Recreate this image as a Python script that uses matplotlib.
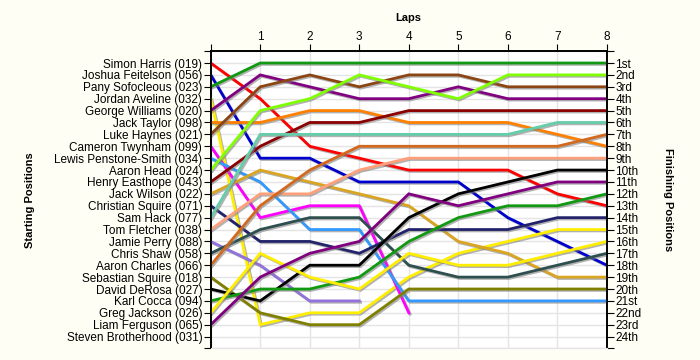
import numpy as np
import matplotlib
matplotlib.use("Agg")
import matplotlib.pyplot as plt
import matplotlib.patheffects as pe

plt.rcParams['font.family'] = ['Liberation Sans', 'DejaVu Sans']

# Laps 0..8
laps = np.arange(0, 9)

drivers = ['Simon Harris (019)', 'Joshua Feitelson (056)', 'Pany Sofocleous (023)',
           'Jordan Aveline (032)', 'George Williams (020)', 'Jack Taylor (098)',
           'Luke Haynes (021)', 'Cameron Twynham (099)', 'Lewis Penstone-Smith (034)',
           'Aaron Head (024)', 'Henry Easthope (043)', 'Jack Wilson (022)',
           'Christian Squire (071)', 'Sam Hack (077)', 'Tom Fletcher (038)',
           'Jamie Perry (088)', 'Chris Shaw (058)', 'Aaron Charles (066)',
           'Sebastian Squire (018)', 'David DeRosa (027)', 'Karl Cocca (094)',
           'Greg Jackson (026)', 'Liam Ferguson (065)', 'Steven Brotherhood (031)']

finish_labels = ['1st', '2nd', '3rd'] + ['%dth' % i for i in range(4, 21)] + \
                ['21st', '22nd', '23rd', '24th']

# position of each driver at the end of each lap (None = retired)
positions = [
    [1, 4, 8, 9, 10, 10, 10, 12, 13],
    [2, 9, 9, 11, 11, 11, 14, 16, 18],
    [3, 1, 1, 1, 1, 1, 1, 1, 1],
    [4, 23, 22, 22, 19, 17, 16, 15, 15],
    [5, 2, 3, 4, 4, 3, 4, 4, 4],
    [6, 6, 5, 5, 6, 6, 6, 7, 8],
    [7, 3, 2, 3, 2, 2, 3, 3, 3],
    [8, 14, 13, 13, 22, None, None, None, None],
    [9, 11, 15, 15, 21, 21, 21, 21, 21],
    [10, 5, 4, 2, 3, 4, 2, 2, 2],
    [11, 8, 6, 6, 5, 5, 5, 5, 5],
    [12, 10, 11, 12, 13, 16, 17, 19, 19],
    [13, 16, 16, 17, 15, 15, 15, 14, 14],
    [14, 7, 7, 7, 7, 7, 7, 6, 6],
    [15, 12, 12, 10, 9, 9, 9, 9, 9],
    [16, 18, 21, 21, None, None, None, None, None],
    [17, 15, 14, 14, 18, 19, 19, 18, 17],
    [18, 13, 10, 8, 8, 8, 8, 8, 7],
    [19, 22, 23, 23, 20, 20, 20, 20, 20],
    [20, 21, 18, 18, 14, 12, 11, 10, 10],
    [21, 20, 20, 19, 16, 14, 13, 13, 12],
    [22, 17, 19, 20, 17, 18, 18, 17, 16],
    [23, 19, 17, 16, 12, 13, 12, 11, 11],
]

colors = ['#FF0000', '#0000CC', '#119911', '#FFEE00', '#800080', '#FF8000',
          '#8B4513', '#FF00FF', '#3399FF', '#80FF00', '#8B0000', '#DAA520',
          '#23236B', '#66CDAA', '#FFA07A', '#9370DB', '#2F4F4F', '#D2691E',
          '#808000', '#000000', '#119911', '#FFEE00', '#800080']

fig = plt.figure(figsize=(7, 3.6), dpi=100, facecolor='#FFFEF4')
ax = fig.add_axes([0.301, 0.032, 0.566, 0.826])
ax.set_facecolor('white')

shadow = [pe.SimpleLineShadow(offset=(1, -1), shadow_color='gray', alpha=0.6),
          pe.Normal()]
for pos, c in zip(positions, colors):
    y = np.array([np.nan if p is None else p for p in pos], dtype=float)
    ax.plot(laps, y, color=c, lw=2.0, solid_joinstyle='miter',
            path_effects=shadow, zorder=3)

ax.set_xlim(0, 8)
ax.set_ylim(25, 0)

ax.set_xticks(laps)
ax.set_xticklabels([''] + [str(i) for i in laps[1:]])
ax.xaxis.tick_top()
ax.tick_params(axis='x', top=True, bottom=False, direction='out', length=5,
               labelsize=8.5, pad=1)

ax.set_yticks(np.arange(0, 26))
ax.set_yticklabels([''] + drivers + [''])
ax.tick_params(axis='y', left=True, right=True, direction='out', length=5,
               labelsize=8.5, pad=1)

ax2 = ax.twinx()
ax2.set_ylim(25, 0)
ax2.set_yticks(np.arange(0, 26))
ax2.set_yticklabels([''] + finish_labels + [''])
ax2.tick_params(axis='y', direction='out', length=5, labelsize=8.5, pad=1)

ax.grid(True, color='#E4E4E4', lw=1, zorder=0)
ax.set_axisbelow(True)
for a in (ax, ax2):
    a.spines['bottom'].set_color('#E4E4E4')
    for s in ('top', 'left', 'right'):
        a.spines[s].set_color('black')
        a.spines[s].set_linewidth(1.2)

fig.text(0.583, 0.95, 'Laps', ha='center', va='center', fontsize=8,
         fontweight='bold')
fig.text(0.043, 0.445, 'Starting Positions', ha='center', va='center',
         rotation=90, fontsize=8, fontweight='bold')
fig.text(0.954, 0.445, 'Finishing Positions', ha='center', va='center',
         rotation=-90, fontsize=8, fontweight='bold')

fig.savefig('out.png', dpi=100, facecolor=fig.get_facecolor())
